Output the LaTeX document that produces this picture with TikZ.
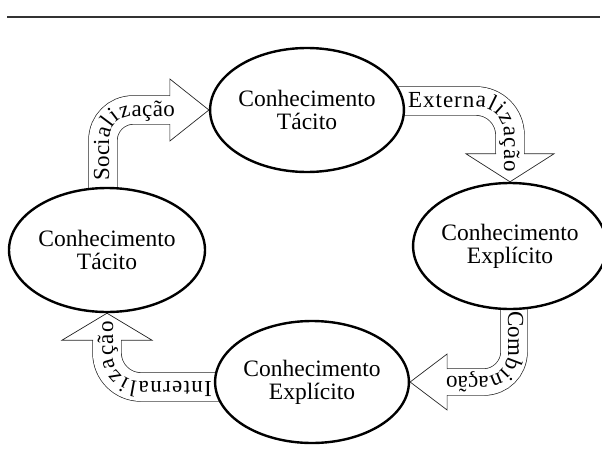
\documentclass[tikz,border=0pt]{standalone}
\usepackage{fontspec}
\setmainfont{Liberation Serif}
\usetikzlibrary{shapes.geometric,calc,decorations.text,backgrounds}
\tikzset{
  conhecimento/.style={draw, ellipse, line width=2.4pt, fill=white, align=center, inner sep=0pt, font=\fontsize{23.5}{23}\selectfont},
  haste/.style={draw=black!85, line width=0.7pt, double=white, double distance=#1},
  ponta/.style={draw=black!85, line width=0.7pt, line join=miter},
  rotulo/.style={decorate, decoration={text along path, text align=fit to path, text={#1}}},
}
\begin{document}
\fontsize{23}{23}\selectfont
\begin{tikzpicture}[x=1pt,y=-1pt]
\useasboundingbox (0,0) rectangle (602,455);
\draw[line width=1.2pt, black!80] (7,17) -- (600,17);
% os quatro conhecimentos
\node[conhecimento, minimum width=190pt, minimum height=124pt] (tacitoTopo) at (307,110) {Conhecimento\\Tácito};
\node[conhecimento, minimum width=182pt, minimum height=126pt] (explicitoDir) at (510,246) {Conhecimento\\Explícito};
\node[conhecimento, minimum width=196pt, minimum height=124pt] (tacitoEsq) at (107,250) {Conhecimento\\Tácito};
\node[conhecimento, minimum width=190pt, minimum height=122pt] (explicitoBaixo) at (312,382) {Conhecimento\\Explícito};
\begin{scope}[on background layer]
% Socialização
\coordinate (s1) at ($(tacitoEsq.north)+(-4,8)$);
\coordinate (b1) at ($(tacitoTopo.west)+(-39,0)$);
\draw[haste=28pt, rounded corners=30pt] (s1) -- (s1 |- b1) -- (b1);
\draw[ponta] ($(b1)+(0,-14)$) -- ($(b1)+(0,-31)$) -- (tacitoTopo.west) -- ($(b1)+(0,31)$) -- ($(b1)+(0,14)$);
\path[rotulo=Socialização, rounded corners=24pt] ($(s1)+(6,-14)$) -- ($(s1 |- b1)+(6,6)$) -- ($(b1)+(5,6)$);
% Externalização
\coordinate (s2) at ($(tacitoTopo.east)+(-10,-9)$);
\coordinate (b2) at ($(explicitoDir.north)+(0,-28)$);
\draw[haste=28pt, rounded corners=34pt] (s2) -- (s2 -| b2) -- (b2);
\draw[ponta] ($(b2)+(-14,0)$) -- ($(b2)+(-44,0)$) -- (explicitoDir.north) -- ($(b2)+(44,0)$) -- ($(b2)+(14,0)$);
\path[rotulo=Externalização, rounded corners=26pt] ($(s2)+(13,6)$) -- ($(s2 -| b2)+(-6,6)$) -- ($(b2)+(-6,18)$);
% Combinação
\coordinate (s3) at ($(explicitoDir.south)+(4,-6)$);
\coordinate (b3) at ($(explicitoBaixo.east)+(37,0)$);
\draw[haste=26pt, rounded corners=30pt] (s3) -- (s3 |- b3) -- (b3);
\draw[ponta] ($(b3)+(0,-13)$) -- ($(b3)+(0,-28)$) -- (explicitoBaixo.east) -- ($(b3)+(0,28)$) -- ($(b3)+(0,13)$);
\path[rotulo=Combinação, rounded corners=22pt] ($(s3)+(-6,7)$) -- ($(s3 |- b3)+(-6,-6)$) -- ($(b3)+(-1,-6)$);
% Internalização
\coordinate (s4) at ($(explicitoBaixo.west)+(8,5)$);
\coordinate (b4) at ($(tacitoEsq.south)+(0,27)$);
\draw[haste=28pt, rounded corners=34pt] (s4) -- (s4 -| b4) -- (b4);
\draw[ponta] ($(b4)+(14,0)$) -- ($(b4)+(45,0)$) -- (tacitoEsq.south) -- ($(b4)+(-45,0)$) -- ($(b4)+(-14,0)$);
\path[rotulo=Internalização, rounded corners=26pt] ($(s4)+(-10,-6)$) -- ($(s4 -| b4)+(6,-6)$) -- ($(b4)+(6,-19)$);
\end{scope}
\end{tikzpicture}
\end{document}
